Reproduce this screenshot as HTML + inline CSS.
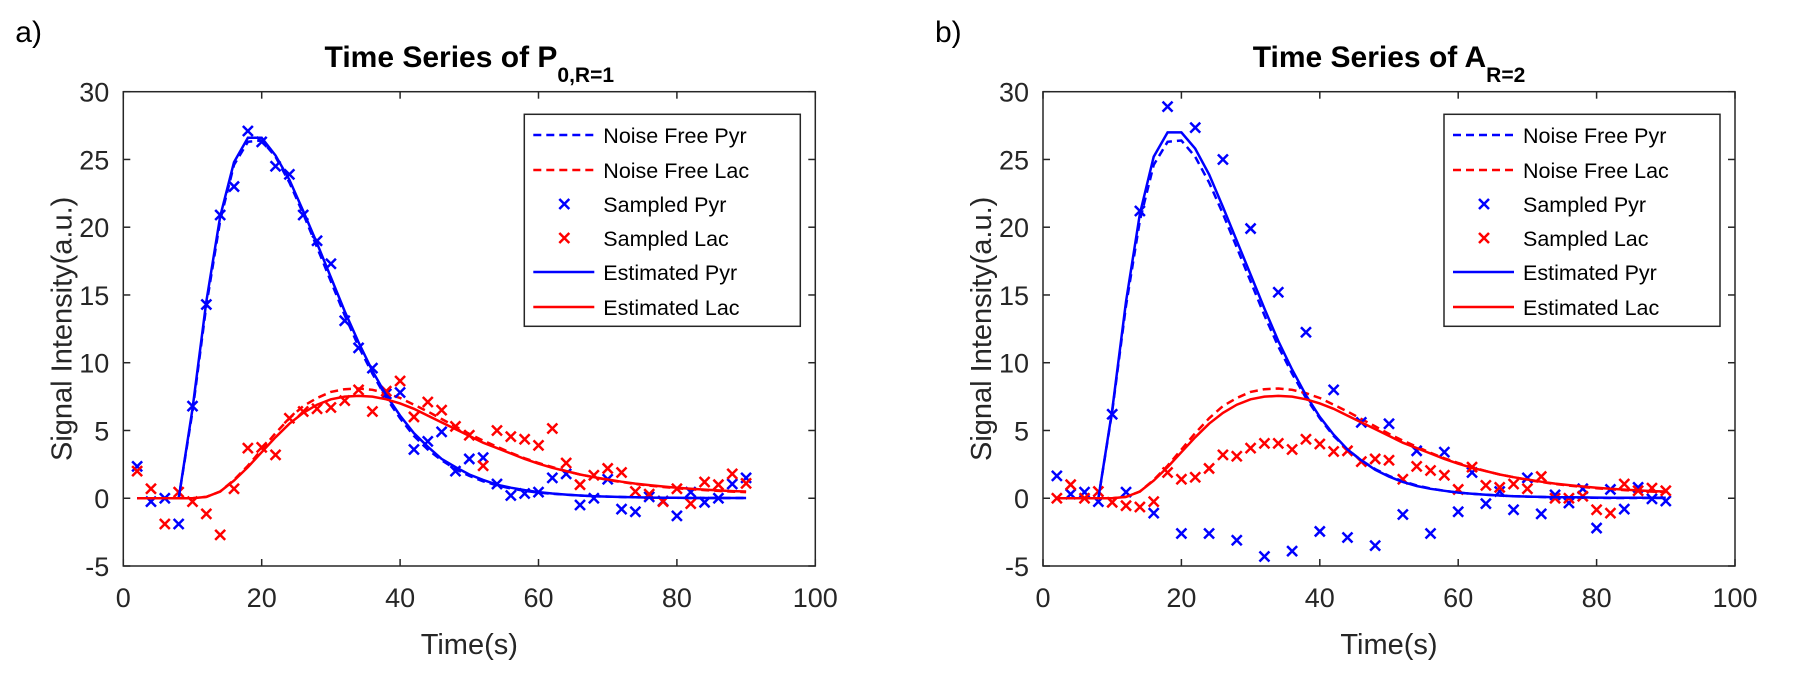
<!DOCTYPE html>
<html><head><meta charset="utf-8"><style>
html,body{margin:0;padding:0;background:#fff;}
svg{display:block;font-family:"Liberation Sans",Arial,sans-serif;}
</style></head><body>
<svg id="fig" width="1800" height="700" viewBox="0 0 1800 700" xmlns="http://www.w3.org/2000/svg"></svg>
<script>
// ---- data ----
const times = [2,4,6,8,10,12,14,16,18,20,22,24,26,28,30,32,34,36,38,40,42,44,46,48,50,52,54,56,58,60,62,64,66,68,70,72,74,76,78,80,82,84,86,88,90];
const xTicks = [0,20,40,60,80,100];
const yTicks = [-5,0,5,10,15,20,25,30];
const noiseFreePyr = [0,0,0,0,6.4,14.2,20.5,24.6,26.3,26.4,25.2,23.3,21.0,18.5,16.0,13.5,11.2,9.2,7.4,5.9,4.6,3.6,2.8,2.15,1.65,1.25,0.95,0.72,0.55,0.42,0.33,0.26,0.2,0.15,0.12,0.09,0.07,0.05,0.04,0.03,0.02,0.02,0.02,0.02,0.02];
const noiseFreeLac = [0,0,0,0,0,0.1,0.5,1.35,2.4,3.6,4.8,5.9,6.8,7.4,7.85,8.05,8.1,8.0,7.75,7.4,6.9,6.4,5.85,5.3,4.75,4.25,3.8,3.35,2.95,2.6,2.3,2.0,1.75,1.55,1.35,1.2,1.05,0.93,0.83,0.74,0.66,0.6,0.54,0.49,0.45];
const estPyrA = [0,0,0,0,6.6,14.5,20.8,24.8,26.6,26.6,25.3,23.5,21.2,18.8,16.3,13.8,11.5,9.4,7.6,6.1,4.8,3.8,2.9,2.3,1.75,1.35,1.0,0.78,0.6,0.45,0.35,0.27,0.2,0.15,0.12,0.09,0.07,0.05,0.04,0.03,0.02,0.02,0.02,0.02,0.02];
const estLacA = [0,0,0,0,0,0.1,0.5,1.3,2.3,3.4,4.5,5.5,6.3,6.9,7.3,7.5,7.55,7.5,7.3,7.0,6.6,6.1,5.6,5.1,4.6,4.1,3.7,3.3,2.9,2.55,2.25,2.0,1.75,1.55,1.38,1.22,1.08,0.97,0.87,0.78,0.7,0.64,0.58,0.53,0.5];
const sampPyrA = [2.35,-0.25,0,-1.9,6.8,14.3,20.9,23.0,27.1,26.3,24.5,23.9,20.9,19.0,17.3,13.1,11.1,9.6,7.7,7.8,3.6,4.2,4.9,2.0,2.9,3.0,1.05,0.2,0.35,0.45,1.5,1.8,-0.5,0,1.4,-0.8,-1.0,0.1,-0.2,-1.3,0.45,-0.3,0,1.05,1.5];
const sampLacA = [2.0,0.7,-1.9,0.45,-0.25,-1.15,-2.7,0.7,3.7,3.75,3.2,5.9,6.4,6.6,6.7,7.2,8.0,6.4,7.9,8.65,6.0,7.1,6.5,5.3,4.65,2.4,5.0,4.55,4.35,3.9,5.15,2.6,1.0,1.7,2.2,1.9,0.5,0.3,-0.25,0.7,-0.4,1.2,1.0,1.8,1.1];
const estPyrB = [0,0,0,0,6.5,14.5,21.0,25.2,27.0,27.0,25.8,23.9,21.5,19.0,16.5,14.0,11.6,9.5,7.6,6.0,4.7,3.6,2.8,2.1,1.6,1.2,0.9,0.7,0.55,0.42,0.33,0.26,0.2,0.15,0.12,0.1,0.08,0.07,0.06,0.05,0.04,0.04,0.03,0.03,0.03];
const estLacB = [0,0,0,0,0,0.1,0.5,1.3,2.3,3.4,4.5,5.5,6.3,6.9,7.3,7.5,7.55,7.5,7.3,7.0,6.6,6.1,5.6,5.1,4.6,4.1,3.7,3.3,2.9,2.55,2.25,2.0,1.75,1.55,1.38,1.22,1.08,0.97,0.87,0.78,0.7,0.64,0.58,0.53,0.5];
const sampPyrB = [1.65,0.3,0.45,-0.25,6.2,0.45,21.2,-1.1,28.9,-2.6,27.35,-2.6,25.0,-3.1,19.9,-4.3,15.2,-3.9,12.25,-2.45,8.0,-2.9,5.6,-3.5,5.5,-1.2,3.5,-2.6,3.4,-1.0,1.9,-0.4,0.5,-0.85,1.5,-1.15,0.25,-0.35,0.7,-2.2,0.65,-0.8,0.8,-0.05,-0.2];
const sampLacB = [0,1.0,0,0.5,-0.3,-0.55,-0.65,-0.25,1.9,1.4,1.55,2.2,3.2,3.1,3.7,4.05,4.05,3.6,4.35,4.0,3.45,3.5,2.7,2.9,2.8,1.4,2.35,2.05,1.7,0.65,2.3,0.95,0.8,1.05,0.7,1.6,0,0,0.15,-0.85,-1.1,1.05,0.55,0.75,0.55];
const legendLabels = ["Noise Free Pyr","Noise Free Lac","Sampled Pyr","Sampled Lac","Estimated Pyr","Estimated Lac"];

const NS="http://www.w3.org/2000/svg";
const svg=document.getElementById('fig');
const BLUE="#0000ff", RED="#ff0000";
function mk(tag,attrs,parent){const e=document.createElementNS(NS,tag);for(const k in attrs)e.setAttribute(k,attrs[k]);(parent||svg).appendChild(e);return e;}

function panel(opt){
  const L=opt.left, R=opt.left+692, T=91.7, B=566;
  const g=mk('g',{});
  
  
  const xs=v=>L+(v-0)/100*(R-L);
  const ys=v=>B-(v+5)/35*(B-T);
  const box=mk('rect',{x:L,y:T,width:R-L,height:B-T,fill:'none',stroke:'#262626','stroke-width':1.5},g);
  
  
  xTicks.forEach(t=>{
    const x=xs(t);
    mk('line',{x1:x,x2:x,y1:B,y2:B-7,stroke:'#262626','stroke-width':1.5},g);
    mk('line',{x1:x,x2:x,y1:T,y2:T+7,stroke:'#262626','stroke-width':1.5},g);
    const tx=mk('text',{x:x,y:607,'font-size':27,'text-anchor':'middle',fill:'#262626'},g);
    tx.textContent=t;
    
    
  });
  yTicks.forEach(t=>{
    const y=ys(t);
    mk('line',{x1:L,x2:L+7,y1:y,y2:y,stroke:'#262626','stroke-width':1.5},g);
    mk('line',{x1:R,x2:R-7,y1:y,y2:y,stroke:'#262626','stroke-width':1.5},g);
    const tx=mk('text',{x:L-14,y:y+10,'font-size':27,'text-anchor':'end',fill:'#262626'},g);
    tx.textContent=t;
    
    
  });
  const xl=mk('text',{x:(L+R)/2,y:654,'font-size':29,'text-anchor':'middle',fill:'#262626'},g);
  xl.textContent='Time(s)';
  
  
  const yl=mk('text',{x:0,y:0,'font-size':29,'text-anchor':'middle',fill:'#262626',transform:`translate(${L-52},${(T+B)/2}) rotate(-90)`},g);
  yl.textContent='Signal Intensity(a.u.)';
  
  
  const ti=mk('text',{x:(L+R)/2,y:67,'font-size':30,'font-weight':'bold','text-anchor':'middle',fill:'#000'},g);
  
  
  const t1=mk('tspan',{},ti); t1.textContent=opt.title;
  const t2=mk('tspan',{dy:15,'font-size':21},ti); t2.textContent=opt.sub;
  const pl=mk('text',{x:opt.left-108,y:42,'font-size':30,fill:'#000'},g);
  pl.textContent=opt.label;
  
  

  function line(vals,color,dash,name){
    const d=vals.map((v,i)=>(i?'L':'M')+xs(times[i]).toFixed(1)+' '+ys(v).toFixed(1)).join(' ');
    const p=mk('path',{d:d,fill:'none',stroke:color,'stroke-width':2.5,'stroke-dasharray':dash||'none'},g);
    
    
  }
  function marks(vals,color,name){
    vals.forEach((v,i)=>{
      const x=xs(times[i]), y=ys(v), s=5;
      const p=mk('path',{d:`M${x-s} ${y-s}L${x+s} ${y+s}M${x-s} ${y+s}L${x+s} ${y-s}`,stroke:color,'stroke-width':2.5,fill:'none'},g);
      
      
    });
  }
  line(noiseFreePyr,BLUE,'8 5','noise-free-pyr-line');
  line(noiseFreeLac,RED,'8 5','noise-free-lac-line');
  marks(opt.sp,BLUE,'sampled-pyr-point');
  marks(opt.sl,RED,'sampled-lac-point');
  line(opt.ep,BLUE,null,'estimated-pyr-line');
  line(opt.el,RED,null,'estimated-lac-line');

  const lx=L+401, lw=R-15-lx;
  const lg=mk('g',{},g);
  
  
  mk('rect',{x:lx,y:114.3,width:lw,height:212,fill:'#fff',stroke:'#262626','stroke-width':1.5},lg);
  const rows=[135,170,204,238,272,307];
  legendLabels.forEach((lab,i)=>{
    const y=rows[i];
    const e=mk('g',{},lg);
    
    
    const col=(i%2===0)?BLUE:RED;
    if(i<2) mk('line',{x1:lx+9,x2:lx+70,y1:y,y2:y,stroke:col,'stroke-width':2.5,'stroke-dasharray':'8 5'},e);
    else if(i<4){const cx=lx+40,s=5;mk('path',{d:`M${cx-s} ${y-s}L${cx+s} ${y+s}M${cx-s} ${y+s}L${cx+s} ${y-s}`,stroke:col,'stroke-width':2.5},e);}
    else mk('line',{x1:lx+9,x2:lx+70,y1:y,y2:y,stroke:col,'stroke-width':2.5},e);
    const t=mk('text',{x:lx+79,y:y+8,'font-size':21.5,fill:'#000'},e);
    t.textContent=lab;
  });
}
panel({name:'panel-a',left:123.3,title:'Time Series of P',sub:'0,R=1',label:'a)',sp:sampPyrA,sl:sampLacA,ep:estPyrA,el:estLacA});
panel({name:'panel-b',left:1043,title:'Time Series of A',sub:'R=2',label:'b)',sp:sampPyrB,sl:sampLacB,ep:estPyrB,el:estLacB});
</script>
</body></html>
